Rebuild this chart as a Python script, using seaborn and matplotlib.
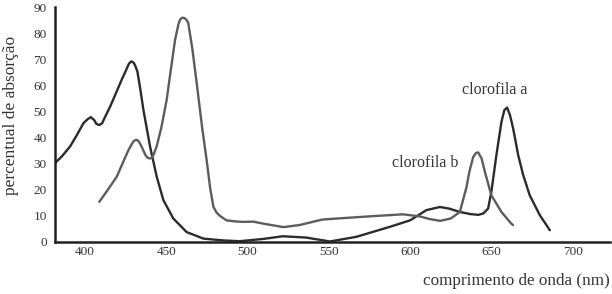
import matplotlib
matplotlib.use("Agg")
import matplotlib.pyplot as plt
import seaborn as sns
import pandas as pd

# ---- data ----
chl_a_wl = [381.5, 386, 390.8, 395, 399, 401.5, 403.5, 405.5, 407, 408.8, 410.5, 412,
            415.4, 419, 422.5, 425, 427, 428.5, 430, 431, 432.2, 434, 435.9, 440,
            444.1, 448.2, 454.3, 462.5, 472.8, 485, 495, 510, 521.7, 536, 550.7,
            567, 587.5, 600, 610, 618.3, 624, 630.6, 637, 642, 645, 648, 650,
            653.1, 656.2, 658, 659.7, 661.5, 663.4, 666.5, 669.6, 673.6, 679.8, 686]
chl_a_val = [30.2, 33, 36.6, 41, 45.5, 47, 47.8, 46.8, 45.2, 44.8, 45.5, 47.5,
             51.8, 57, 62.1, 65.5, 68.3, 69.2, 68.6, 67.3, 65.3, 58.5, 50.6, 36.5,
             25, 16, 9, 3.8, 1.3, 0.6, 0.3, 1.2, 2.2, 1.7, 0.2,
             2, 5.8, 8.3, 12.2, 13.4, 12.8, 11.5, 10.7, 10.4, 10.9, 12.8, 19.2,
             33.3, 46, 50.5, 51.5, 48.5, 43.5, 33.3, 25.6, 17.9, 10.3, 4.5]

chl_b_wl = [408.8, 414, 419.5, 423, 426.7, 429.5, 430.5, 431.4, 432.4, 433.3, 434.8,
            437, 438.2, 439.5, 440.7, 442, 444, 447, 450.2, 453, 455.4, 457.5,
            458.5, 459.5, 460.5, 461.5, 462.5, 463.5, 466, 468.7, 472, 474.8, 477,
            479, 481, 483, 487, 492, 497.3, 503.5, 510, 522, 532, 546, 560, 577,
            595.6, 606, 612, 618.5, 625, 630.6, 634.7, 636.5, 638.8, 640.5, 641.9,
            644, 646, 650, 656.2, 662.3, 663.3]
chl_b_val = [15.4, 20, 25, 30, 35.2, 38.3, 38.9, 39.1, 38.9, 38.3, 36.5,
             33.5, 32.4, 32, 32.1, 33.2, 36.5, 44, 54.4, 67, 77.5, 83.5,
             85.2, 85.8, 85.9, 85.6, 85, 83.9, 74, 60.8, 44, 31.4, 20.5,
             13.4, 11.2, 10, 8.3, 7.9, 7.7, 7.8, 7, 5.7, 6.5, 8.6, 9.2, 9.9,
             10.6, 9.8, 8.8, 8.1, 9, 11.5, 21, 27, 32.5, 34.1, 34.3,
             32, 26.9, 17.9, 11.5, 7, 6.5]

x_ticks = [400, 450, 500, 550, 600, 650, 700]
x_tick_labels = ["400", "450", "500", "550", "600", "650", "700"]
y_ticks = [0, 10, 20, 30, 40, 50, 60, 70, 80, 90]
series_names = ["clorofila a", "clorofila b"]

df = pd.concat([
    pd.DataFrame({"wl": chl_a_wl, "val": chl_a_val, "serie": series_names[0]}),
    pd.DataFrame({"wl": chl_b_wl, "val": chl_b_val, "serie": series_names[1]}),
])

sns.set_style("white")
plt.rcParams["font.family"] = ["Liberation Serif", "DejaVu Serif"]

fig = plt.figure(figsize=(6.12, 2.94), dpi=100)
ax = fig.add_axes([55 / 612, 1 - 242 / 294, 555 / 612, 235 / 294])

sns.lineplot(data=df, x="wl", y="val", hue="serie", sort=False,
             palette={series_names[0]: "#2b2b2b", series_names[1]: "#5c5c5c"},
             linewidth=1.7, legend=False, ax=ax, estimator=None)
for ln in ax.lines:
    ln.set_solid_joinstyle("round")
    ln.set_solid_capstyle("round")

ax.set_xlim(381.5, 723)
ax.set_ylim(0, 90)
ax.set_xticks(x_ticks)
ax.set_xticklabels(x_tick_labels)
ax.set_yticks(y_ticks)

for s in ["top", "right"]:
    ax.spines[s].set_visible(False)
for s in ["left", "bottom"]:
    ax.spines[s].set_color("#222222")
    ax.spines[s].set_linewidth(1.8)

ax.tick_params(axis="x", direction="in", length=7.5, width=1.8, color="#222222",
               labelsize=9.5, pad=3, labelcolor="#333333")
ax.tick_params(axis="y", direction="in", length=8.5, width=1.8, color="#222222",
               labelsize=9.5, pad=6, labelcolor="#333333")

ax.set_ylabel("percentual de absorção", fontsize=12.5, color="#333333",
              va="center")
ax.yaxis.set_label_coords(-0.079, 0.54)
ax.set_xlabel("comprimento de onda (nm)", fontsize=12.3, color="#333333",
              ha="right", va="center")
ax.xaxis.set_label_coords(1.0, -0.166)

ax.text(652, 58.3, series_names[0], fontsize=11.5, ha="center", va="center", color="#333333")
ax.text(609, 30.2, series_names[1], fontsize=11.5, ha="center", va="center", color="#333333")

fig.savefig("out.png", dpi=100)
